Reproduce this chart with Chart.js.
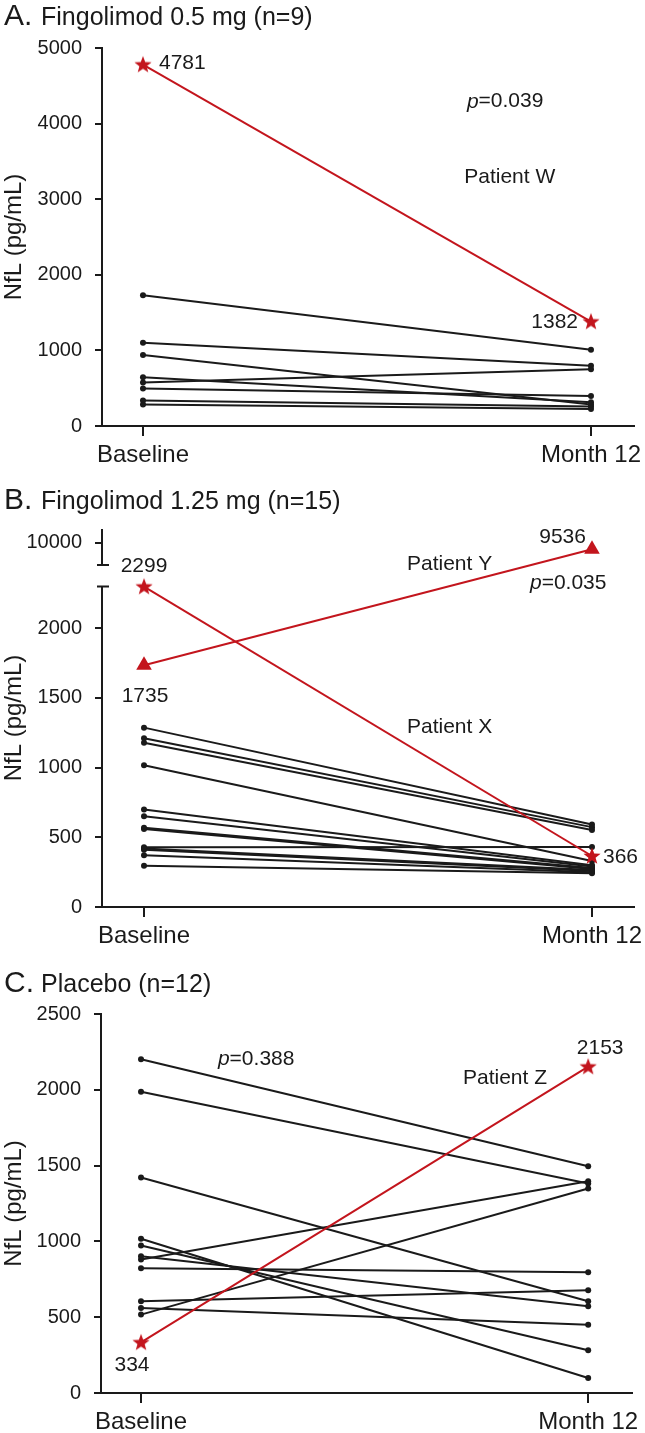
<!DOCTYPE html>
<html>
<head>
<meta charset="utf-8">
<script src="https://cdn.jsdelivr.net/npm/chart.js@4.4.1/dist/chart.umd.min.js"></script>
<style>
  html, body { margin: 0; padding: 0; background: #fff; }
  #wrap { position: relative; width: 645px; height: 1433px; }
  canvas { position: absolute; left: 0; }
</style>
</head>
<body>
<div id="wrap">
  <canvas id="chartA" width="645" height="470" style="top:0"></canvas>
  <canvas id="chartB" width="645" height="480" style="top:470px"></canvas>
  <canvas id="chartC" width="645" height="483" style="top:950px"></canvas>
</div>
<script>
const FONT = "'Liberation Sans', Arial, Helvetica, sans-serif";
const INK = '#1a1a1a';
const RED = '#c3151d';

// shared x categories
const timeLabels = ['Baseline', 'Month 12'];
const timeX = [0, 1];

// A. Fingolimod 0.5 mg (n=9)
const aTicks = [0, 1000, 2000, 3000, 4000, 5000];
const aBaseline = [1730, 1102, 938, 646, 575, 496, 336, 283];
const aMonth12 = [1009, 796, 283, 314, 752, 398, 257, 226];
const aPatientW = [4781, 1382];

// B. Fingolimod 1.25 mg (n=15)
const bTicks = [0, 500, 1000, 1500, 2000, 10000];
const bBaseline = [1287, 1211, 1178, 1017, 699, 652, 569, 560, 429, 420, 410, 372, 296];
const bMonth12 = [592, 573, 552, 330, 300, 290, 280, 272, 431, 265, 258, 250, 242];
const bPatientX = [2299, 366];
const bPatientY = [1735, 9536];
const bCut = { low: 2300, high: 8400, lowPart: 0.848, gapPart: 0.057 };

// C. Placebo (n=12)
const cTicks = [0, 500, 1000, 1500, 2000, 2500];
const cBaseline = [2201, 1987, 1422, 1017, 973, 902, 880, 823, 605, 561, 517];
const cMonth12 = [1496, 1382, 605, 99, 282, 572, 1397, 797, 678, 451, 1349];
const cPatientZ = [334, 2153];

// y axis with a gap between lowPart and the top block
class BrokenScale extends Chart.LinearScale {
  static id = 'broken';
  static defaults = {};
  toDecimal(v) {
    const { low, high, lowPart, gapPart } = bCut;
    if (v <= low) return (v / low) * lowPart;
    if (v >= high) return lowPart + gapPart + ((v - high) / (this.max - high)) * (1 - lowPart - gapPart);
    return lowPart + ((v - low) / (high - low)) * gapPart;
  }
  getPixelForValue(v) {
    return this.getPixelForDecimal(this.toDecimal(v));
  }
  getValueForPixel(p) {
    const d = this.getDecimalForPixel(p);
    const { low, high, lowPart, gapPart } = bCut;
    if (d <= lowPart) return (d / lowPart) * low;
    if (d >= lowPart + gapPart) return high + ((d - lowPart - gapPart) / (1 - lowPart - gapPart)) * (this.max - high);
    return low + ((d - lowPart) / gapPart) * (high - low);
  }
}
Chart.register(BrokenScale);

const makeStar = (r, color) => {
  const c = document.createElement('canvas');
  c.width = c.height = Math.ceil(r * 2) + 2;
  const g = c.getContext('2d');
  g.translate(c.width / 2, c.height / 2 + 0.5);
  g.beginPath();
  for (let k = 0; k < 10; k++) {
    const rr = k % 2 ? r * 0.42 : r;
    const a = -Math.PI / 2 + (k * Math.PI) / 5;
    g.lineTo(Math.cos(a) * rr, Math.sin(a) * rr);
  }
  g.closePath();
  g.fillStyle = color;
  g.fill();
  return c;
};
const star = makeStar(9, RED);

const pairLine = (pair, color, style, radius) => ({
  data: timeX.map((x, i) => ({ x, y: pair[i] })),
  borderColor: color,
  backgroundColor: color,
  borderWidth: 2,
  pointStyle: style,
  pointRadius: radius,
  pointBorderWidth: 0,
  order: color === RED ? 0 : 1,
  clip: false,
});

const blackLines = (base, month) => base.map((b, i) => pairLine([b, month[i]], INK, 'circle', 3));

const textPlugin = (letter, title, titleY, notes) => ({
  id: 'panelText',
  afterDraw: (chart) => {
    const { ctx } = chart;
    const xs = chart.scales.x;
    const ys = chart.scales.y;
    ctx.save();
    ctx.fillStyle = INK;
    ctx.textAlign = 'left';
    ctx.textBaseline = 'alphabetic';
    ctx.font = `30px ${FONT}`;
    ctx.fillText(letter, 4, titleY);
    ctx.font = `25px ${FONT}`;
    ctx.fillText(title, 41, titleY);
    ctx.textBaseline = 'middle';
    notes.forEach((n) => {
      let px = xs.getPixelForValue(n.x) + (n.dx || 0);
      const py = ys.getPixelForValue(n.y) + (n.dy || 0);
      ctx.font = `21px ${FONT}`;
      if (n.italic) {
        ctx.textAlign = 'left';
        ctx.font = `italic 21px ${FONT}`;
        ctx.fillText(n.italic, px, py);
        px += ctx.measureText(n.italic).width;
        ctx.font = `21px ${FONT}`;
      } else {
        ctx.textAlign = n.align || 'left';
      }
      ctx.fillText(n.text, px, py);
    });
    ctx.restore();
  },
});

const brokenAxisLine = {
  id: 'brokenAxisLine',
  beforeDatasetsDraw: (chart) => {
    const { ctx } = chart;
    const ys = chart.scales.y;
    const x0 = ys.right;
    const lowPx = ys.getPixelForValue(bCut.low);
    const highPx = ys.getPixelForValue(bCut.high);
    ctx.save();
    ctx.strokeStyle = INK;
    ctx.lineWidth = 2;
    ctx.beginPath();
    ctx.moveTo(x0, ys.getPixelForValue(0));
    ctx.lineTo(x0, lowPx);
    ctx.moveTo(x0, highPx);
    ctx.lineTo(x0, ys.top);
    ctx.moveTo(x0 - 5, lowPx);
    ctx.lineTo(x0 + 7, lowPx);
    ctx.moveTo(x0 - 5, highPx);
    ctx.lineTo(x0 + 7, highPx);
    ctx.stroke();
    ctx.restore();
  },
};

const xAxis = (min, max, height) => ({
  type: 'linear',
  min,
  max,
  afterBuildTicks: (s) => { s.ticks = timeX.map((v) => ({ value: v })); },
  afterFit: (s) => { s.height = height; s.paddingLeft = 0; s.paddingRight = 0; },
  ticks: {
    callback: (v) => timeLabels[v],
    font: { family: FONT, size: 24 },
    color: INK,
    padding: 5,
    maxRotation: 0,
  },
  grid: { drawOnChartArea: false, drawTicks: true, tickLength: 10, color: INK, lineWidth: 2 },
  border: { display: true, color: INK, width: 2 },
});

const yAxis = (type, max, ticks, width, showBorder) => ({
  type,
  min: 0,
  max,
  afterBuildTicks: (s) => { s.ticks = ticks.map((v) => ({ value: v })); },
  afterFit: (s) => { s.width = width; s.paddingTop = 0; s.paddingBottom = 0; },
  ticks: {
    callback: (v) => String(v),
    font: { family: FONT, size: 20 },
    color: INK,
    padding: 13,
  },
  grid: { drawOnChartArea: false, drawTicks: true, tickLength: 7, color: INK, lineWidth: 2 },
  border: { display: showBorder, color: INK, width: 2 },
  title: {
    display: true,
    text: 'NfL (pg/mL)',
    font: { family: FONT, size: 24 },
    color: INK,
    padding: { top: 0, bottom: 0 },
  },
});

const buildChart = (id, datasets, scales, padding, plugins) =>
  new Chart(document.getElementById(id), {
    type: 'line',
    data: { datasets },
    options: {
      responsive: false,
      animation: false,
      events: [],
      layout: { padding },
      plugins: { legend: { display: false }, tooltip: { enabled: false } },
      scales,
    },
    plugins,
  });

// Panel A
buildChart(
  'chartA',
  [pairLine(aPatientW, RED, star, 8), ...blackLines(aBaseline, aMonth12)],
  { x: xAxis(-0.0915, 1.096, 44), y: yAxis('linear', 5000, aTicks, 102, true) },
  { top: 48, right: 11, bottom: 0, left: 0 },
  [textPlugin('A.', 'Fingolimod 0.5 mg (n=9)', 25, [
    { text: '4781', x: 0, y: aPatientW[0], dx: 16, dy: -1 },
    { text: '1382', x: 1, y: aPatientW[1], dx: -13, dy: 1, align: 'right' },
    { italic: 'p', text: '=0.039', x: 0.723, y: 4290 },
    { text: 'Patient W', x: 0.717, y: 3294 },
  ])]
);

// Panel B
buildChart(
  'chartB',
  [
    pairLine(bPatientX, RED, star, 8),
    pairLine(bPatientY, RED, 'triangle', 9),
    ...blackLines(bBaseline, bMonth12),
  ],
  { x: xAxis(-0.0938, 1.0938, 43), y: yAxis('broken', 11000, bTicks, 102, false) },
  { top: 59, right: 11, bottom: 0, left: 0 },
  [brokenAxisLine, textPlugin('B.', 'Fingolimod 1.25 mg (n=15)', 39, [
    { text: '9536', x: 1, y: bPatientY[1], dx: -6, dy: -12, align: 'right' },
    { italic: 'p', text: '=0.035', x: 1, y: bPatientY[1], dx: -62, dy: 34 },
    { text: 'Patient Y', x: 0.587, y: bCut.low, dy: -22 },
    { text: '2299', x: 0, y: bPatientX[0], dy: -20, align: 'center' },
    { text: '1735', x: 0, y: bPatientY[0], dx: 1, dy: 31, align: 'center' },
    { text: 'Patient X', x: 0.587, y: 1292 },
    { text: '366', x: 1, y: bPatientX[1], dx: 11, dy: 1 },
  ])]
);

// Panel C
buildChart(
  'chartC',
  [pairLine(cPatientZ, RED, star, 8), ...blackLines(cBaseline, cMonth12)],
  { x: xAxis(-0.0895, 1.098, 40), y: yAxis('linear', 2500, cTicks, 101, true) },
  { top: 64, right: 13, bottom: 0, left: 0 },
  [textPlugin('C.', 'Placebo (n=12)', 42, [
    { italic: 'p', text: '=0.388', x: 0.172, y: 2203 },
    { text: 'Patient Z', x: 0.72, y: 2078 },
    { text: '2153', x: 1, y: cPatientZ[1], dx: 12, dy: -18, align: 'center' },
    { text: '334', x: 0, y: cPatientZ[0], dx: -9, dy: 23, align: 'center' },
  ])]
);
</script>
</body>
</html>
